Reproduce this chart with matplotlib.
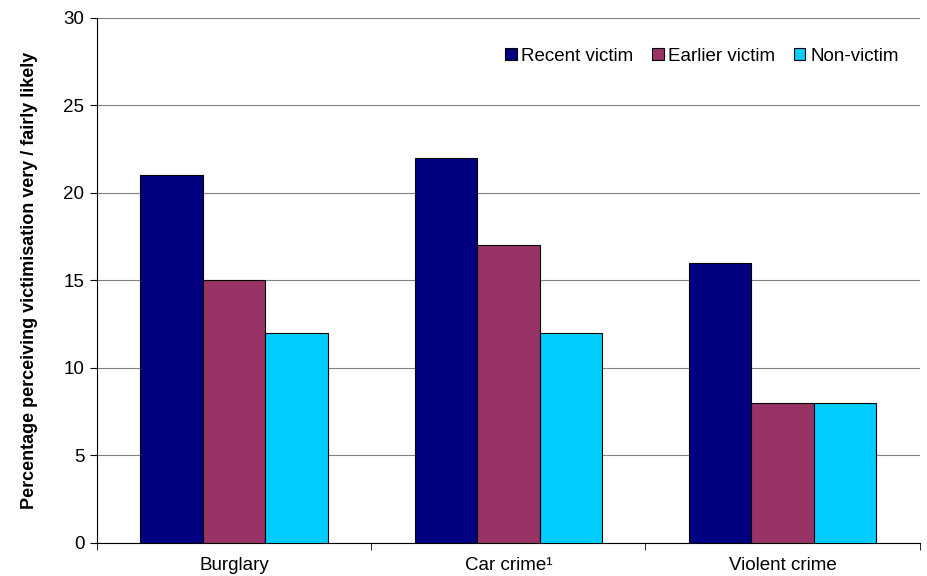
import matplotlib.pyplot as plt
import numpy as np

plt.rcParams['font.family'] = ['Liberation Sans', 'DejaVu Sans']

# categories and series
categories = ['Burglary', 'Car crime\u00b9', 'Violent crime']
series = ['Recent victim', 'Earlier victim', 'Non-victim']
recent = [21, 22, 16]
earlier = [15, 17, 8]
non_victim = [12, 12, 8]
colors = ['#000080', '#993366', '#00CCFF']

fig = plt.figure(figsize=(9.28, 5.76), dpi=100)
ax = fig.add_axes([0.1045, 0.0573, 0.8865, 0.9115])

x = np.arange(len(categories))
w = 0.228
for i, (vals, name, c) in enumerate(zip([recent, earlier, non_victim], series, colors)):
    ax.bar(x + (i - 1) * w, vals, w, color=c, edgecolor='black', linewidth=0.8,
           label=name, zorder=3)

ax.set_xlim(-0.5, 2.5)
ax.set_ylim(0, 30)
ax.set_yticks(range(0, 31, 5))
ax.yaxis.grid(True, color='#808080', linewidth=0.8, zorder=0)

# category labels without tick marks, tick marks on boundaries
ax.set_xticks(x)
ax.set_xticklabels(categories)
ax.tick_params(axis='x', which='major', length=0, pad=10)
ax.set_xticks([-0.5, 0.5, 1.5, 2.5], minor=True)
ax.tick_params(axis='x', which='minor', length=5, color='black')
ax.tick_params(axis='y', length=5, pad=4)
ax.tick_params(labelsize=13.5)

for s in ['top', 'right']:
    ax.spines[s].set_visible(False)
ax.spines['left'].set_linewidth(0.8)
ax.spines['bottom'].set_linewidth(0.8)

ax.set_ylabel('Percentage perceiving victimisation very / fairly likely',
              fontsize=13, fontweight='bold', labelpad=18)

ax.legend(loc='upper right', bbox_to_anchor=(0.995, 0.975), ncol=3, frameon=False,
          fontsize=13.5, handlelength=0.6, handleheight=0.6, handletextpad=0.25,
          columnspacing=1.0)

fig.savefig('out.png', dpi=100)
